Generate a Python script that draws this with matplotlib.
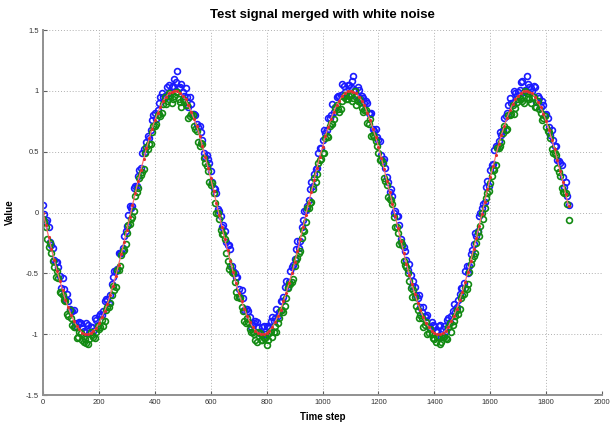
import matplotlib
matplotlib.use("Agg")
import matplotlib.pyplot as plt

plt.rcParams['font.family'] = ['Liberation Sans', 'DejaVu Sans']

# time steps of the samples (every 10th step, and the in-between set)
time_step = list(range(0, 1890, 10))
time_step_mid = list(range(5, 1880, 10))

# clean test signal (red)
signal = [
    0.00, -0.10, -0.20, -0.30, -0.39, -0.48, -0.56, -0.64, -0.72, -0.78,
    -0.84, -0.89, -0.93, -0.96, -0.99, -1.00, -1.00, -0.99, -0.97, -0.95,
    -0.91, -0.86, -0.81, -0.75, -0.68, -0.60, -0.52, -0.43, -0.34, -0.24,
    -0.14, -0.04, 0.06, 0.16, 0.26, 0.35, 0.44, 0.53, 0.61, 0.69,
    0.76, 0.82, 0.87, 0.92, 0.95, 0.98, 0.99, 1.00, 1.00, 0.98,
    0.96, 0.93, 0.88, 0.83, 0.77, 0.71, 0.63, 0.55, 0.46, 0.37,
    0.28, 0.18, 0.08, -0.02, -0.12, -0.22, -0.31, -0.40, -0.49, -0.58,
    -0.66, -0.73, -0.79, -0.85, -0.90, -0.94, -0.97, -0.99, -1.00, -1.00,
    -0.99, -0.97, -0.94, -0.90, -0.85, -0.80, -0.73, -0.66, -0.58, -0.50,
    -0.41, -0.32, -0.22, -0.12, -0.02, 0.08, 0.17, 0.27, 0.37, 0.46,
    0.54, 0.63, 0.70, 0.77, 0.83, 0.88, 0.92, 0.96, 0.98, 1.00,
    1.00, 0.99, 0.98, 0.95, 0.92, 0.88, 0.82, 0.76, 0.69, 0.62,
    0.54, 0.45, 0.36, 0.26, 0.17, 0.07, -0.03, -0.13, -0.23, -0.33,
    -0.42, -0.51, -0.59, -0.67, -0.74, -0.80, -0.86, -0.91, -0.94, -0.97,
    -0.99, -1.00, -1.00, -0.99, -0.97, -0.94, -0.89, -0.85, -0.79, -0.72,
    -0.65, -0.57, -0.49, -0.40, -0.30, -0.21, -0.11, -0.01, 0.09, 0.19,
    0.29, 0.38, 0.47, 0.56, 0.64, 0.71, 0.78, 0.84, 0.89, 0.93,
    0.96, 0.98, 1.00, 1.00, 0.99, 0.98, 0.95, 0.91, 0.87, 0.81,
    0.75, 0.68, 0.60, 0.52, 0.43, 0.34, 0.25, 0.15, 0.05,
]

# noisy samples (blue) at time_step
noisy_blue = [
    0.06, -0.08, -0.12, -0.27, -0.39, -0.41, -0.52, -0.54, -0.71, -0.73,
    -0.81, -0.80, -0.94, -0.90, -0.95, -0.98, -0.92, -0.94, -0.97, -0.88,
    -0.85, -0.84, -0.73, -0.72, -0.68, -0.53, -0.48, -0.33, -0.33, -0.19,
    -0.11, 0.05, 0.05, 0.22, 0.30, 0.37, 0.52, 0.58, 0.61, 0.76,
    0.82, 0.84, 0.95, 0.95, 0.95, 1.05, 1.03, 1.10, 1.16, 1.03,
    0.99, 1.02, 0.87, 0.89, 0.81, 0.73, 0.71, 0.60, 0.46, 0.44,
    0.34, 0.20, 0.16, 0.01, -0.12, -0.15, -0.27, -0.30, -0.48, -0.53,
    -0.63, -0.64, -0.80, -0.79, -0.86, -0.92, -0.89, -0.94, -1.00, -0.93,
    -0.93, -0.95, -0.86, -0.87, -0.85, -0.73, -0.69, -0.56, -0.57, -0.45,
    -0.38, -0.23, -0.23, -0.06, 0.02, 0.10, 0.25, 0.32, 0.37, 0.53,
    0.60, 0.65, 0.78, 0.80, 0.83, 0.95, 0.96, 1.06, 0.99, 1.05,
    1.03, 1.12, 0.97, 1.01, 0.96, 0.90, 0.90, 0.81, 0.69, 0.69,
    0.60, 0.47, 0.44, 0.29, 0.17, 0.14, 0.01, -0.03, -0.22, -0.28,
    -0.39, -0.42, -0.60, -0.61, -0.70, -0.78, -0.78, -0.86, -0.94, -0.90,
    -0.93, -0.98, -0.92, -0.96, -0.97, -0.87, -0.85, -0.75, -0.78, -0.67,
    -0.62, -0.48, -0.50, -0.34, -0.26, -0.19, -0.03, 0.04, 0.09, 0.26,
    0.35, 0.40, 0.55, 0.59, 0.64, 0.78, 0.82, 0.94, 0.90, 0.98,
    0.99, 1.07, 0.99, 1.12, 1.03, 1.00, 1.03, 0.96, 0.87, 0.88,
    0.81, 0.70, 0.68, 0.55, 0.43, 0.41, 0.29, 0.25, 0.06,
]

# noisy samples (blue) at time_step_mid
noisy_blue_mid = [
    -0.01, -0.06, -0.24, -0.29, -0.41, -0.45, -0.62, -0.63, -0.67, -0.79,
    -0.81, -0.91, -0.91, -0.91, -0.97, -0.91, -0.99, -0.94, -0.87, -0.92,
    -0.83, -0.81, -0.71, -0.74, -0.59, -0.48, -0.46, -0.33, -0.29, -0.15,
    -0.02, 0.04, 0.20, 0.22, 0.35, 0.49, 0.50, 0.63, 0.68, 0.80,
    0.77, 0.90, 0.98, 0.96, 1.03, 0.99, 1.04, 1.07, 1.02, 1.06,
    0.96, 0.95, 0.95, 0.81, 0.80, 0.70, 0.66, 0.49, 0.47, 0.41,
    0.25, 0.19, 0.03, -0.03, -0.10, -0.24, -0.27, -0.44, -0.50, -0.53,
    -0.69, -0.70, -0.79, -0.81, -0.94, -0.91, -0.90, -0.98, -0.94, -1.00,
    -0.94, -0.89, -0.89, -0.79, -0.82, -0.73, -0.61, -0.61, -0.48, -0.43,
    -0.30, -0.29, -0.12, 0.01, 0.05, 0.19, 0.22, 0.36, 0.49, 0.53,
    0.68, 0.68, 0.78, 0.89, 0.87, 0.96, 0.97, 1.04, 0.97, 1.05,
    1.08, 1.01, 1.03, 0.94, 0.94, 0.92, 0.82, 0.82, 0.67, 0.62,
    0.59, 0.42, 0.37, 0.25, 0.19, 0.00, -0.03, -0.10, -0.26, -0.32,
    -0.47, -0.51, -0.56, -0.68, -0.68, -0.82, -0.85, -0.84, -0.95, -0.92,
    -0.97, -0.93, -1.02, -0.93, -0.88, -0.90, -0.81, -0.82, -0.72, -0.62,
    -0.58, -0.44, -0.44, -0.31, -0.17, -0.15, 0.00, 0.07, 0.21, 0.22,
    0.39, 0.51, 0.54, 0.66, 0.68, 0.79, 0.88, 0.90, 1.00, 0.96,
    1.01, 1.08, 1.01, 1.06, 1.02, 1.04, 0.91, 0.94, 0.92, 0.80,
    0.78, 0.64, 0.60, 0.55, 0.42, 0.39, 0.21, 0.14,
]

# noisy samples (green) at time_step
noisy_green = [
    -0.05, -0.12, -0.28, -0.33, -0.45, -0.48, -0.65, -0.68, -0.73, -0.85,
    -0.87, -0.94, -1.03, -0.98, -1.05, -1.04, -1.08, -0.98, -1.02, -0.98,
    -0.96, -0.88, -0.89, -0.78, -0.74, -0.60, -0.61, -0.47, -0.35, -0.31,
    -0.17, -0.09, -0.04, 0.14, 0.20, 0.31, 0.36, 0.54, 0.56, 0.66,
    0.71, 0.80, 0.79, 0.89, 0.89, 0.98, 0.90, 0.96, 0.99, 0.91,
    0.93, 0.88, 0.78, 0.81, 0.71, 0.67, 0.55, 0.56, 0.41, 0.34,
    0.23, 0.16, 0.00, -0.05, -0.18, -0.22, -0.40, -0.44, -0.50, -0.65,
    -0.69, -0.78, -0.89, -0.87, -0.96, -0.98, -1.05, -0.98, -1.05, -1.03,
    -1.09, -0.99, -1.02, -0.93, -0.91, -0.80, -0.82, -0.70, -0.59, -0.57,
    -0.44, -0.37, -0.32, -0.14, -0.08, 0.04, 0.09, 0.28, 0.32, 0.43,
    0.49, 0.61, 0.62, 0.74, 0.77, 0.88, 0.83, 0.92, 0.97, 0.93,
    0.97, 0.94, 0.88, 0.93, 0.86, 0.84, 0.74, 0.77, 0.64, 0.59,
    0.49, 0.43, 0.28, 0.23, 0.11, 0.07, -0.12, -0.17, -0.24, -0.40,
    -0.45, -0.56, -0.69, -0.69, -0.80, -0.84, -0.94, -0.90, -0.99, -1.00,
    -1.04, -1.02, -1.08, -1.02, -1.03, -0.94, -0.98, -0.89, -0.80, -0.79,
    -0.68, -0.62, -0.59, -0.42, -0.36, -0.25, -0.19, 0.00, 0.04, 0.16,
    0.24, 0.36, 0.39, 0.53, 0.58, 0.71, 0.69, 0.80, 0.88, 0.86,
    0.93, 0.93, 0.90, 0.98, 0.93, 0.94, 0.87, 0.92, 0.82, 0.78,
    0.70, 0.66, 0.52, 0.49, 0.37, 0.30, 0.17, 0.16, -0.06,
]

# noisy samples (green) at time_step_mid
noisy_green_mid = [
    -0.08, -0.22, -0.25, -0.40, -0.53, -0.54, -0.66, -0.72, -0.83, -0.80,
    -0.92, -0.94, -1.02, -0.99, -1.06, -1.07, -1.04, -1.01, -1.03, -0.93,
    -0.94, -0.93, -0.80, -0.78, -0.68, -0.64, -0.47, -0.44, -0.32, -0.26,
    -0.10, -0.05, 0.01, 0.17, 0.28, 0.33, 0.49, 0.52, 0.56, 0.71,
    0.73, 0.81, 0.82, 0.95, 0.92, 0.96, 0.93, 0.99, 0.93, 0.87,
    0.91, 0.88, 0.79, 0.80, 0.69, 0.58, 0.57, 0.45, 0.38, 0.25,
    0.24, 0.08, 0.00, -0.14, -0.18, -0.33, -0.46, -0.49, -0.57, -0.69,
    -0.70, -0.81, -0.91, -0.90, -0.98, -1.00, -1.06, -0.99, -1.05, -1.03,
    -1.05, -0.97, -0.98, -0.98, -0.87, -0.80, -0.77, -0.62, -0.59, -0.55,
    -0.39, -0.33, -0.21, -0.15, 0.04, 0.08, 0.19, 0.25, 0.41, 0.44,
    0.49, 0.63, 0.71, 0.73, 0.86, 0.85, 0.85, 0.95, 0.93, 0.96,
    0.92, 1.00, 0.92, 0.91, 0.83, 0.84, 0.73, 0.63, 0.62, 0.55,
    0.43, 0.41, 0.26, 0.13, 0.10, -0.04, -0.12, -0.26, -0.27, -0.43,
    -0.50, -0.62, -0.64, -0.77, -0.87, -0.87, -0.92, -1.00, -0.96, -1.03,
    -1.06, -1.02, -1.06, -1.02, -1.04, -0.91, -0.92, -0.85, -0.83, -0.70,
    -0.67, -0.63, -0.49, -0.38, -0.33, -0.16, -0.11, -0.05, 0.12, 0.18,
    0.30, 0.35, 0.53, 0.55, 0.65, 0.68, 0.80, 0.81, 0.81, 0.91,
    0.94, 0.92, 1.00, 0.95, 0.90, 0.95, 0.87, 0.85, 0.76, 0.79,
    0.67, 0.61, 0.49, 0.47, 0.33, 0.20, 0.16, 0.07,
]

x_ticks = [0, 200, 400, 600, 800, 1000, 1200, 1400, 1600, 1800, 2000]
y_ticks = [-1.5, -1.0, -0.5, 0.0, 0.5, 1.0, 1.5]
y_tick_labels = ['-1.5', '-1', '-0.5', '0', '0.5', '1', '1.5']

fig = plt.figure(figsize=(6.15, 4.23), dpi=100)
ax = fig.add_axes([0.070, 0.066, 0.909, 0.863])

marker_style = dict(linestyle='none', marker='o', markersize=4.2,
                    markerfacecolor='none', markeredgewidth=1.2)
ax.plot(time_step + time_step_mid, noisy_blue + noisy_blue_mid,
        markeredgecolor='#1a1aff', **marker_style)
ax.plot(time_step + time_step_mid, noisy_green + noisy_green_mid,
        markeredgecolor='#128a12', **marker_style)
ax.plot(time_step, signal, color='#ff7070', linewidth=0.9, marker='.',
        markersize=2.5, markeredgecolor='#e03030', markerfacecolor='#e03030')

ax.set_xlim(0, 2000)
ax.set_ylim(-1.5, 1.5)
ax.set_xticks(x_ticks)
ax.set_xticklabels([str(v) for v in x_ticks])
ax.set_yticks(y_ticks)
ax.set_yticklabels(y_tick_labels)

ax.grid(True, linestyle=(0, (1, 2)), color='#b0b0b0', linewidth=0.7)
ax.set_axisbelow(True)
for side in ['top', 'right']:
    ax.spines[side].set_visible(False)
for side in ['left', 'bottom']:
    ax.spines[side].set_color('#909090')
    ax.spines[side].set_linewidth(1.4)

ax.tick_params(direction='in', length=3, width=0.8, color='#606060',
               labelsize=5.5, labelcolor='#333333', pad=3)

ax.set_title('Test signal merged with white noise', fontsize=9.5,
             fontweight='bold', pad=9)
ax.set_xlabel('Time step', fontsize=7, fontweight='bold', labelpad=4)
ax.set_ylabel('Value', fontsize=7, fontweight='bold', labelpad=8)

fig.savefig('out.png', dpi=100)
